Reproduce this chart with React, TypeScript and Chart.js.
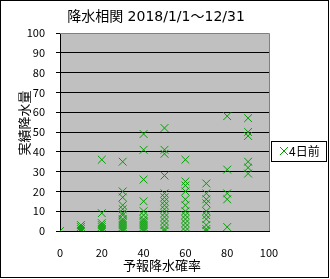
import React, { useEffect, useRef } from "react";
import { Chart, registerables } from "chart.js";

Chart.register(...registerables);

const chartTitle = "降水相関 2018/1/1～12/31";
const xAxisTitle = "予報降水確率";
const yAxisTitle = "実績降水量";
const seriesLabel = "4日前";

const forecastProbabilities = [0, 10, 20, 30, 40, 50, 60, 70, 80, 90];
const rainAt0 = [0];
const rainAt10 = [0, 1, 2, 3];
const rainAt20 = [36, 9, 4, 3, 2, 1, 0];
const rainAt30 = [35, 20, 17, 13, 11, 9, 8, 6, 5, 4, 3, 2, 1, 0];
const rainAt40 = [49, 41, 26, 15, 10, 8, 6, 5, 4, 3, 2, 1, 0];
const rainAt50 = [52, 41, 39, 28, 19, 17, 15, 13, 11, 9, 7, 5, 3, 1, 0];
const rainAt60 = [36, 25, 23, 20, 16, 13, 10, 8, 6, 4, 2, 0];
const rainAt70 = [24, 19, 16, 14, 10, 8, 6, 3, 1, 0];
const rainAt80 = [58, 31, 19, 16, 2];
const rainAt90 = [57, 50, 48, 35, 32, 29];

const rainLists = [rainAt0, rainAt10, rainAt20, rainAt30, rainAt40, rainAt50, rainAt60, rainAt70, rainAt80, rainAt90];

const GREEN = "#00a000";
const FONT = "'Noto Sans CJK JP', 'DejaVu Sans', sans-serif";
const TITLE_FONT = "'DejaVu Sans', 'Noto Sans CJK JP', sans-serif";

const decorPlugin = {
  id: "decor",
  beforeDraw(chart: any) {
    const { ctx, chartArea: a } = chart;
    ctx.save();
    ctx.fillStyle = "#ffffff";
    ctx.fillRect(0, 0, chart.width, chart.height);
    ctx.fillStyle = "#c0c0c0";
    ctx.fillRect(a.left, a.top, a.right - a.left, a.bottom - a.top);
    ctx.restore();
  },
  afterDraw(chart: any) {
    const { ctx, chartArea: a } = chart;
    ctx.save();
    ctx.strokeStyle = "#808080";
    ctx.lineWidth = 1;
    ctx.beginPath();
    ctx.moveTo(a.left, a.top + 0.5);
    ctx.lineTo(a.right + 0.5, a.top + 0.5);
    ctx.lineTo(a.right + 0.5, a.bottom);
    ctx.stroke();
    ctx.strokeStyle = "#000000";
    ctx.strokeRect(0.5, 0.5, 328, 277);
    ctx.fillStyle = "#000";
    ctx.textBaseline = "middle";
    ctx.textAlign = "center";
    ctx.font = `14px ${TITLE_FONT}`;
    ctx.fillText(chartTitle, 156, 17);
    ctx.font = `13px ${FONT}`;
    ctx.fillText(xAxisTitle, 162, 265);
    ctx.save();
    ctx.translate(24, 123);
    ctx.rotate(-Math.PI / 2);
    ctx.fillText(yAxisTitle, 0, 0);
    ctx.restore();
    ctx.fillStyle = "#fff";
    ctx.fillRect(272, 141, 54, 20);
    ctx.strokeStyle = "#000";
    ctx.strokeRect(271.5, 141.5, 55, 20);
    ctx.strokeStyle = GREEN;
    ctx.beginPath();
    ctx.moveTo(280, 147);
    ctx.lineTo(288, 155);
    ctx.moveTo(288, 147);
    ctx.lineTo(280, 155);
    ctx.stroke();
    ctx.fillStyle = "#000";
    ctx.textAlign = "left";
    ctx.font = `12px ${FONT}`;
    ctx.fillText(seriesLabel, 289, 151.5);
    ctx.restore();
  },
};

export default function App() {
  const ref = useRef<HTMLCanvasElement | null>(null);
  useEffect(() => {
    document.body.style.margin = "0";
    const points = forecastProbabilities.flatMap((p, i) => rainLists[i].map((r) => ({ x: p, y: r })));
    const chart = new Chart(ref.current!, {
      type: "scatter",
      data: {
        datasets: [
          {
            label: seriesLabel,
            data: points,
            pointStyle: "crossRot",
            pointRadius: 5.5,
            pointBorderWidth: 1,
            borderColor: GREEN,
            backgroundColor: GREEN,
            showLine: false,
          },
        ],
      },
      options: {
        responsive: false,
        animation: false,
        layout: { padding: { left: 0, top: 33, right: 61, bottom: 0 } },
        plugins: { legend: { display: false }, title: { display: false }, tooltip: { enabled: false } },
        scales: {
          x: {
            type: "linear",
            min: 0,
            max: 100,
            afterFit: (s: any) => {
              s.height = 48;
            },
            grid: { display: false },
            border: { color: "#000" },
            ticks: { stepSize: 20, color: "#000", padding: 7, font: { size: 11, family: FONT } },
          },
          y: {
            min: 0,
            max: 100,
            afterFit: (s: any) => {
              s.width = 60;
            },
            grid: {
              color: (c: any) => (c.tick && c.tick.value === 100 ? "#808080" : "#000"),
              tickLength: 4,
              tickColor: "#000",
            },
            border: { color: "#000" },
            ticks: { stepSize: 10, color: "#000", padding: 11, font: { size: 11, family: FONT } },
          },
        },
      },
      plugins: [decorPlugin],
    });
    return () => chart.destroy();
  }, []);
  return <canvas ref={ref} width={330} height={279} style={{ display: "block" }} />;
}
